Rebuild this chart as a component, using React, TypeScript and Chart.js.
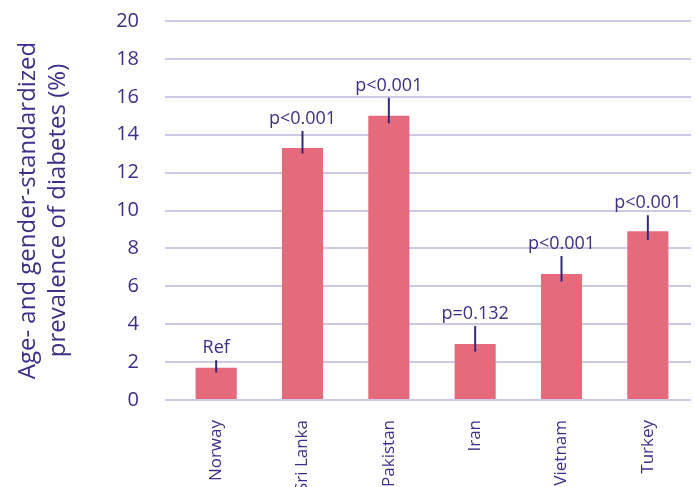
import React, { useEffect, useRef } from "react";
import { Chart, registerables } from "chart.js";

Chart.register(...registerables);

const countries = ["Norway", "Sri Lanka", "Pakistan", "Iran", "Vietnam", "Turkey"];
const prevalence = [1.7, 13.3, 15.0, 2.95, 6.65, 8.9];
const ciLow = [1.45, 13.0, 14.6, 2.55, 6.25, 8.45];
const ciHigh = [2.1, 14.2, 15.95, 3.9, 7.6, 9.75];
const pLabels = ["Ref", "p<0.001", "p<0.001", "p=0.132", "p<0.001", "p<0.001"];
const yTitle = ["Age- and gender-standardized", "prevalence of diabetes (%)"];

const TEXT = "#3b2f88";
const BAR = "#e56a7c";
const GRID = "#cdc9e4";
const WHISKER = "#302a7c";
const FONT = "'Open Sans', 'Noto Sans', sans-serif";

const errorBars = {
  id: "errorBars",
  afterDatasetsDraw(chart: any) {
    const { ctx } = chart;
    const meta = chart.getDatasetMeta(0);
    const y = chart.scales.y;
    ctx.save();
    meta.data.forEach((bar: any, i: number) => {
      const x = bar.x;
      const top = y.getPixelForValue(ciHigh[i]);
      const bottom = y.getPixelForValue(ciLow[i]);
      ctx.strokeStyle = WHISKER;
      ctx.lineWidth = 2;
      ctx.beginPath();
      ctx.moveTo(x, top);
      ctx.lineTo(x, bottom);
      ctx.stroke();
      ctx.fillStyle = TEXT;
      ctx.font = `18px ${FONT}`;
      ctx.textAlign = "center";
      ctx.textBaseline = "bottom";
      ctx.fillText(pLabels[i], x, top - 3);
    });
    ctx.restore();
  },
};

export default function App() {
  const ref = useRef<HTMLCanvasElement>(null);

  useEffect(() => {
    if (!ref.current) return;
    const chart = new Chart(ref.current, {
      type: "bar",
      data: {
        labels: countries,
        datasets: [
          {
            data: prevalence,
            backgroundColor: BAR,
            borderWidth: 0,
            categoryPercentage: 1,
            barPercentage: 0.476,
          },
        ],
      },
      options: {
        animation: false,
        responsive: false,
        maintainAspectRatio: false,
        layout: { padding: { top: 3, right: 4, left: 0, bottom: 0 } },
        plugins: {
          legend: { display: false },
          tooltip: { enabled: false },
        },
        scales: {
          x: {
            grid: { display: false },
            border: { display: false },
            ticks: {
              color: TEXT,
              font: { family: FONT, size: 17 },
              minRotation: 90,
              maxRotation: 90,
              padding: 12,
              autoSkip: false,
            },
            afterFit(scale: any) {
              scale.height = 120;
            },
          },
          y: {
            min: 0,
            max: 20,
            border: { display: false },
            grid: { color: GRID, lineWidth: 2, tickLength: 8 },
            ticks: {
              stepSize: 2,
              color: TEXT,
              font: { family: FONT, size: 20 },
              padding: 26,
            },
            title: {
              display: true,
              text: yTitle,
              color: TEXT,
              font: { family: FONT, size: 24, lineHeight: 1.25 },
              padding: { top: 13, bottom: 0 },
            },
            afterFit(scale: any) {
              scale.width = 173;
            },
          },
        },
      },
      plugins: [errorBars],
    });
    return () => chart.destroy();
  }, []);

  return (
    <div style={{ position: "absolute", left: 0, top: -17, width: 695, height: 537 }}>
      <canvas ref={ref} width={695} height={537} style={{ display: "block" }} />
    </div>
  );
}
